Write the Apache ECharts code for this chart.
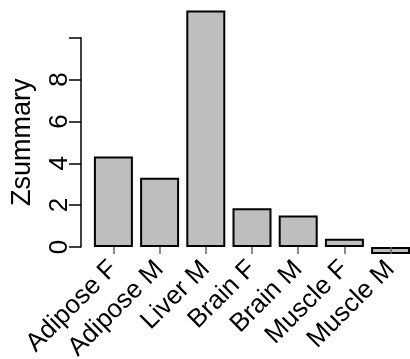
<!DOCTYPE html>
<html>
<head>
<meta charset="utf-8">
<script src="https://cdn.jsdelivr.net/npm/echarts@6/dist/echarts.min.js"></script>
<style>
  html, body { margin: 0; padding: 0; background: #fff; }
  #chart { width: 410px; height: 359px; }
</style>
</head>
<body>
<div id="chart"></div>
<script>
// Tissue / sex groups and their Z summary scores
const categories = ['Adipose F', 'Adipose M', 'Liver M', 'Brain F', 'Brain M', 'Muscle F', 'Muscle M'];
const zsummary = [4.32, 3.31, 11.3, 1.85, 1.51, 0.40, -0.33];
const yTicks = [0, 2, 4, 6, 8, 10];
const yLabelled = [0, 2, 4, 6, 8];

const FONT = 'Liberation Sans, Arial, Helvetica, sans-serif';

const chart = echarts.init(document.getElementById('chart'), null, { renderer: 'canvas' });
chart.setOption({
  animation: false,
  backgroundColor: '#ffffff',
  grid: {
    left: 90.3, top: 37.7, width: 323.4, height: 209.3,
    containLabel: false, outerBoundsMode: 'none'
  },
  xAxis: {
    type: 'category',
    data: categories,
    z: 3,
    axisLine: { show: false },
    axisTick: { show: true, alignWithLabel: true, length: 7, lineStyle: { color: '#666', width: 1.5 } },
    axisLabel: {
      rotate: 45, fontSize: 26, fontFamily: FONT, color: '#000', margin: 18, interval: 0
    },
    splitLine: { show: false }
  },
  yAxis: {
    type: 'value',
    min: yTicks[0],
    max: yTicks[yTicks.length - 1],
    interval: 2,
    offset: 9.3,
    name: 'Zsummary',
    nameLocation: 'middle',
    nameRotate: 90,
    nameGap: 45,
    nameTextStyle: { fontSize: 27, fontFamily: FONT, color: '#000' },
    axisLine: { show: true, lineStyle: { color: '#000', width: 1.5 } },
    axisTick: { show: true, length: 12, lineStyle: { color: '#000', width: 1.5 } },
    axisLabel: {
      rotate: 90, fontSize: 26, fontFamily: FONT, color: '#000', margin: 8,
      formatter: v => (yLabelled.indexOf(v) >= 0 ? String(v) : '')
    },
    splitLine: { show: false }
  },
  series: [{
    type: 'bar',
    data: zsummary,
    clip: false,
    barCategoryGap: '15.6%',
    itemStyle: { color: '#bebebe', borderColor: '#000', borderWidth: 2 }
  }]
});
</script>
</body>
</html>
